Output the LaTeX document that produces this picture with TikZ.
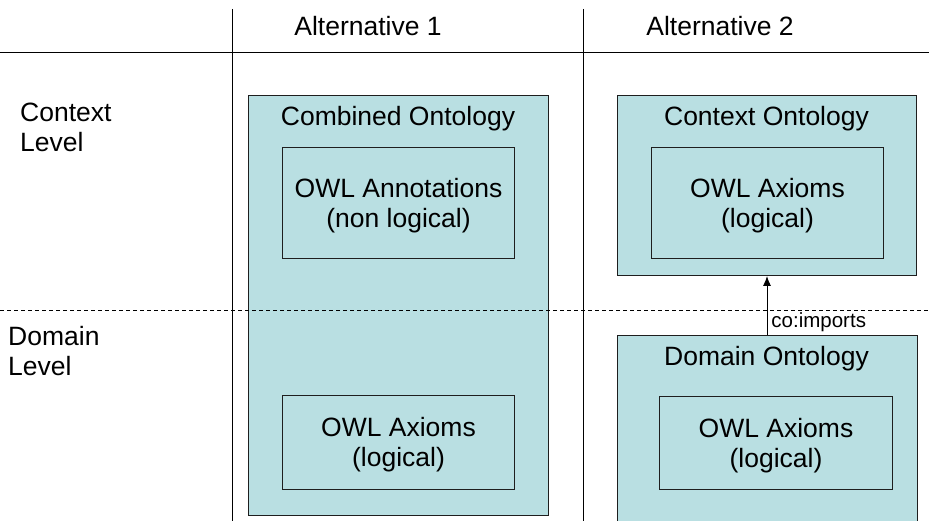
\documentclass[tikz,border=0pt]{standalone}
\usepackage{fontspec}
\setmainfont{Liberation Sans}
\usetikzlibrary{arrows.meta}
\definecolor{ontofill}{RGB}{185,223,226}
\definecolor{edge}{RGB}{30,30,30}
\begin{document}
\begin{tikzpicture}[x=1pt,y=-1pt,
  every node/.style={font=\fontsize{26.5}{30}\selectfont, inner sep=0pt},
  outerbox/.style={draw=edge, fill=ontofill, line width=1pt, anchor=north west},
  innerbox/.style={draw=edge, line width=1pt, anchor=north west, align=center},
  rule/.style={line width=0.9pt, draw=black},
  levelline/.style={line width=0.8pt, dash pattern=on 4pt off 3pt},
  heading/.style={anchor=center},
  boxtext/.style={align=center, yshift=-2.5pt},
  sidelabel/.style={anchor=west, align=left}]
\useasboundingbox (0,0) rectangle (929,521);

% grid of columns
\coordinate (hl) at (0,52);
\coordinate (hr) at (929,52);
\draw[rule] (hl) -- (hr);
\coordinate (v1t) at (232,9);
\coordinate (v1b) at (232,521);
\coordinate (v2t) at (583,9);
\coordinate (v2b) at (583,521);
\draw[rule] (v1t) -- (v1b);
\draw[rule] (v2t) -- (v2b);

% column headings
\node[heading] (alt1) at (368,26) {Alternative 1};
\node[heading] (alt2) at (720,26) {Alternative 2};

% row labels
\node[sidelabel] (ctx) at (20,127) {Context\\Level};
\node[sidelabel] (dom) at (8,351) {Domain\\Level};

% alternative 1: one combined ontology
\node[outerbox, minimum width=300, minimum height=420] (comb) at (248,95) {};
\node[heading] (combt) at (398,118.5) {Combined Ontology};
\node[innerbox, minimum width=232, minimum height=111] (ann) at (282,147) {};
\node[boxtext] (annt) at (ann.center) {OWL Annotations\\(non logical)};
\node[innerbox, minimum width=232, minimum height=94] (ax1) at (282,395) {};
\node[boxtext] (ax1t) at (ax1.center) {OWL Axioms\\(logical)};

% alternative 2: context ontology importing the domain ontology
\node[outerbox, minimum width=299, minimum height=180] (cont) at (617,95) {};
\node[heading] (contt) at (766.5,118.5) {Context Ontology};
\node[innerbox, minimum width=232, minimum height=111] (ax2) at (651,147) {};
\node[boxtext] (ax2t) at (ax2.center) {OWL Axioms\\(logical)};

\node[outerbox, minimum width=300, minimum height=200] (domo) at (617,335) {};
\node[heading] (domt) at (766.5,358.5) {Domain Ontology};
\node[innerbox, minimum width=233, minimum height=93] (ax3) at (659,396) {};
\node[boxtext] (ax3t) at (ax3.center) {OWL Axioms\\(logical)};

\draw[line width=0.9pt, -{Latex[length=10pt,width=8pt]}] (domo.north -| 767,0) -- (cont.south -| 767,0)
  node[pos=0.22, anchor=west, xshift=4pt, font=\fontsize{20.5}{24}\selectfont] (imp) {co:imports};

% boundary between the two levels, drawn over everything
\coordinate (dl) at (0,310);
\coordinate (dr) at (929,310);
\draw[levelline] (dl) -- (dr);
\end{tikzpicture}
\end{document}
